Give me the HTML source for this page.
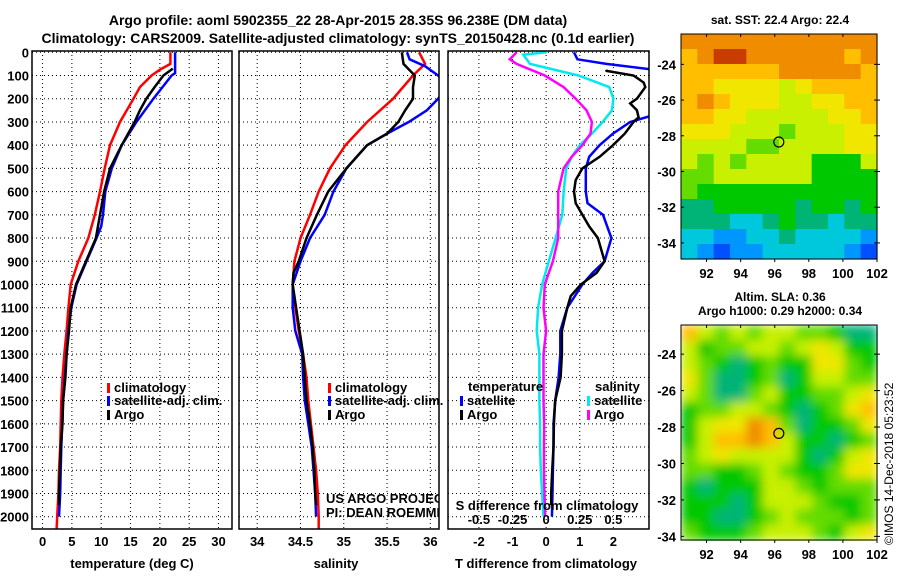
<!DOCTYPE html>
<html><head><meta charset="utf-8"><style>
body{margin:0;background:#fff;}
svg{display:block;font-family:"Liberation Sans",sans-serif;}
.b{font-weight:bold;font-size:13px;}
</style></head><body>
<svg id="c" width="900" height="580" viewBox="0 0 900 580">
<text x="338" y="25" text-anchor="middle" font-size="14" font-weight="bold">Argo profile: aoml 5902355_22 28-Apr-2015 28.35S 96.238E (DM data)</text>
<text x="338" y="43" text-anchor="middle" font-size="14" font-weight="bold">Climatology: CARS2009. Satellite-adjusted climatology: synTS_20150428.nc (0.1d earlier)</text>
<text x="780" y="24" text-anchor="middle" font-size="12" font-weight="bold">sat. SST: 22.4 Argo: 22.4</text>
<text x="780" y="301" text-anchor="middle" font-size="12" font-weight="bold">Altim. SLA: 0.36</text>
<text x="780" y="315" text-anchor="middle" font-size="12" font-weight="bold">Argo h1000: 0.29 h2000: 0.34</text>
<text transform="translate(893,545) rotate(-90)" font-size="12">©IMOS 14-Dec-2018 05:23:52</text>
</svg>
<script>
// ---- data ----
const tDepth=[0,50,75,100,150,200,300,400,500,600,700,800,900,1000,1100,1200,1300,1400,1500,1600,1700,1800,1900,2000,2053];
const tClim=[21.8,21.8,20,18.6,16.6,15.5,13.2,11.5,10.6,9.8,8.9,7.8,6.1,4.8,4.4,4.1,3.7,3.4,3.2,3.1,3.0,2.8,2.7,2.5,2.4];
const tSatDepth=[0,90,100,200,300,400,500,600,700,750,800,900,1000,1100,1200,1300,1400,1500,1600,1700,1800,1900,2000];
const tSat=[22.6,22.6,22,18.9,16,13.5,11.8,10.7,10.3,10,9.2,7.5,5.8,4.9,4.4,4.1,3.8,3.5,3.35,3.2,3.1,3.0,2.8];
const argoDepth=[70,100,150,200,250,300,400,500,600,700,800,900,1000,1100,1200,1300,1400,1500,1600,1700,1800,1900,1950];
const tArgo=[22.2,20.6,19.1,17.7,16.6,15.7,13.5,11.5,10.5,9.8,9.1,7.4,5.7,4.8,4.5,4.1,3.9,3.5,3.4,3.1,2.95,2.8,2.8];
const sDepth=[0,50,100,200,300,400,500,600,700,800,900,1000,1100,1200,1300,1400,1500,1600,1700,1800,1900,2000,2053];
const sClim=[35.87,35.94,35.80,35.57,35.27,35.02,34.84,34.71,34.61,34.5,34.43,34.41,34.44,34.48,34.53,34.57,34.59,34.62,34.65,34.68,34.70,34.71,34.71];
const sSatDepth=[0,30,60,100,150,200,250,300,350,400,500,600,700,800,900,1000,1100,1200,1300,1400,1500,1600,1700,1800,1900,2000];
const sSat=[35.73,35.76,35.94,36.09,36.2,36.09,35.96,35.75,35.5,35.27,35.03,34.88,34.78,34.61,34.5,34.41,34.41,34.44,34.52,34.53,34.55,34.59,34.63,34.65,34.67,34.68];
const sArgoDepth=[0,50,100,150,200,250,300,350,400,450,500,600,700,800,900,950,1000,1100,1200,1300,1400,1500,1600,1700,1800,1900,1950];
const sArgo=[35.67,35.69,35.82,35.80,35.8,35.71,35.63,35.5,35.27,35.15,35.03,34.82,34.69,34.57,34.48,34.42,34.41,34.45,34.49,34.53,34.55,34.57,34.61,34.64,34.66,34.67,34.68];
const dtSatDepth=[0,30,50,75,270,300,350,400,450,500,600,650,700,800,900,950,1000,1100,1200,1300,1400,1500,1600,1700,1800,1900,2000];
const dtSat=[0.83,0.93,1.79,3.2,3.2,2.5,1.99,1.59,1.28,1.18,1.18,1.23,1.69,1.94,1.74,1.38,1.08,0.63,0.42,0.42,0.37,0.27,0.22,0.22,0.2,0.19,0.17];
const dtArgoDepth=[75,80,100,130,150,200,220,250,280,300,350,400,450,500,550,600,650,700,750,800,900,950,1000,1050,1100,1200,1300,1400,1500,1600,1700,1800,1900,1950];
const dtArgo=[1.79,1.8,2.6,2.9,2.95,2.7,2.5,2.7,2.75,2.6,2.34,1.99,1.59,1.08,0.88,0.83,0.88,1.08,1.28,1.54,1.74,1.5,1.03,0.73,0.63,0.47,0.47,0.43,0.27,0.23,0.22,0.18,0.15,0.15];
const dsSatDepth=[0,10,50,100,150,200,250,300,350,400,450,500,600,700,800,900,1000,1100,1200,1300,1400,1500,1600,1700,1800,1900,2000];
const dsSat=[0.005,-0.17,-0.12,0.24,0.47,0.50,0.49,0.42,0.34,0.25,0.19,0.15,0.13,0.12,0.07,0.02,-0.03,-0.06,-0.07,-0.05,-0.05,-0.05,-0.045,-0.045,-0.04,-0.03,-0.02];
const dsArgoDepth=[0,30,50,100,150,200,250,300,350,400,450,500,600,700,800,900,950,1000,1100,1200,1300,1400,1500,1600,1700,1800,1900,2000];
const dsArgo=[-0.22,-0.27,-0.22,-0.01,0.13,0.22,0.30,0.34,0.33,0.27,0.19,0.13,0.09,0.09,0.09,0.05,0.02,-0.01,-0.02,0.0,-0.02,-0.02,-0.02,-0.015,-0.017,-0.017,-0.012,-0.007];
const depthTicks=[0,100,200,300,400,500,600,700,800,900,1000,1100,1200,1300,1400,1500,1600,1700,1800,1900,2000];
const tempTicks=[0,5,10,15,20,25,30];
const salTicks=[34,34.5,35,35.5,36];
const salTickLabels=["34","34.5","35","35.5","36"];
const dtTicks=[-2,-1,0,1,2];
const dsTicks=[-0.5,-0.25,0,0.25,0.5];
const dsTickLabels=["-0.5","-0.25","0","0.25","0.5"];
const latTicks=[-24,-26,-28,-30,-32,-34];
const lonTicks=[92,94,96,98,100,102];
const sstGrid=[
[9,9,9,9,9,9,9,9,9,9,9,9],
[8,9,10,10,9,9,9,9,9,9,8,9],
[8,8,8,8,8,8,9,9,9,9,9,8],
[8,8,7,7,7,7,6,7,8,8,8,8],
[8,9,8,7,7,7,6,6,7,7,8,8],
[8,8,7,7,6,6,6,6,6,7,7,8],
[7,7,7,6,6,6,5,6,6,6,7,7],
[6,6,6,6,5,5,6,6,6,6,7,7],
[6,5,6,5,6,6,6,6,4,4,4,6],
[5,5,6,6,6,6,6,6,4,4,4,4],
[5,4,4,4,4,4,4,4,4,4,4,4],
[3,3,4,4,4,4,4,3,4,4,3,4],
[3,3,3,2,2,3,4,3,3,2,3,3],
[2,2,1,1,2,2,3,2,2,2,2,1],
[2,1,0,1,1,2,2,2,2,2,1,0]];
const slaGrid=[
[8,6,5,6,5,6,6,5,5,4,3,3],
[6,4,5,5,6,6,5,6,7,6,4,4],
[6,5,4,3,4,5,4,4,7,7,5,4],
[7,5,3,3,4,5,3,4,6,6,5,5],
[6,5,3,3,5,6,4,4,5,5,6,7],
[4,5,5,6,6,5,4,3,4,5,7,8],
[4,6,7,7,9,8,5,3,4,4,5,7],
[4,6,8,8,9,8,6,4,4,3,4,5],
[5,6,7,6,6,6,6,4,3,4,6,7],
[5,5,4,4,5,6,5,4,4,5,7,7],
[4,3,4,4,4,6,6,5,4,5,5,5],
[4,4,4,3,4,6,6,6,5,4,4,5],
[4,4,3,3,4,5,6,5,5,5,4,5],
[5,4,4,4,5,6,6,6,5,4,6,7]];
const palette=["#0050ff","#0096ff","#00c8dc","#00b478","#00c800","#64dc00","#c8f000","#f0e600","#ffbe00","#f08c00","#c83c00"];

// ---- helpers ----
const NS="http://www.w3.org/2000/svg";
const svg=document.getElementById('c');
function mk(tag,attrs,parent){const e=document.createElementNS(NS,tag);for(const k in attrs)e.setAttribute(k,attrs[k]);(parent||svg).appendChild(e);return e;}
function txt(x,y,s,anchor,cls,parent){const e=mk('text',{x:x,y:y,'text-anchor':anchor||'middle','class':cls||'b'},parent);e.textContent=s;return e;}
const yTop=51,yBot=529;
function yD(d){return 52.3+d*(516.7-52.3)/2000;}

const panels=[
 {x0:32,x1:232,vmin:-1.8,vmax:32.3,name:'temperature'},
 {x0:239,x1:439,vmin:33.79,vmax:36.1,name:'salinity'},
 {x0:448,x1:649,vmin:-2.92,vmax:3.06,name:'difference'}];
function xs(p,v){return p.x0+(v-p.vmin)/(p.vmax-p.vmin)*(p.x1-p.x0);}

const defs=mk('defs',{});
panels.forEach((p,i)=>{const cp=mk('clipPath',{id:'cp'+i},defs);mk('rect',{x:p.x0,y:yTop,width:p.x1-p.x0,height:yBot-yTop},cp);});
const f=mk('filter',{id:'blur',x:'0',y:'0',width:'1',height:'1'},defs);
mk('feGaussianBlur',{stdDeviation:'5',edgeMode:'duplicate'},f);

function grid(p,ticks,g){
 depthTicks.forEach(d=>{const l=mk('line',{x1:p.x0,x2:p.x1,y1:yD(d),y2:yD(d),stroke:'#000','stroke-width':1,'stroke-dasharray':'1,3'},g);
  
  });
 ticks.forEach(t=>{const x=xs(p,t);const l=mk('line',{x1:x,x2:x,y1:yTop,y2:yBot,stroke:'#000','stroke-width':1,'stroke-dasharray':'1,3'},g);
  
  });
}
function line(p,pi,vals,depths,color,name,g,xf){
 const pts=vals.map((v,i)=>(xf?xf(v):xs(p,v)).toFixed(1)+','+yD(depths[i]).toFixed(1)).join(' ');
 const e=mk('polyline',{points:pts,fill:'none',stroke:color,'stroke-width':2.5,'clip-path':'url(#cp'+pi+')'},g);
 
 
}
function frame(p,g){
 const r=mk('rect',{x:p.x0,y:yTop,width:p.x1-p.x0,height:yBot-yTop,fill:'none',stroke:'#000','stroke-width':1.5},g);
 
 
}
function legend(x,y,color,label,g){
 mk('rect',{x:x,y:y-9,width:3,height:10,fill:color},g);
 const t=txt(x+7,y,label,'start','b',g);
 
 
}

const dl=mk('g',{});


depthTicks.forEach(d=>{txt(29,yD(d)+5,String(d),'end','b',dl);});

// panel 1
const g1=mk('g',{});


grid(panels[0],tempTicks,g1);
line(panels[0],0,tClim,tDepth,'#f00','temp-climatology-line',g1);
line(panels[0],0,tSat,tSatDepth,'#00f','temp-satellite-line',g1);
line(panels[0],0,tArgo,argoDepth,'#000','temp-argo-line',g1);
frame(panels[0],g1);
tempTicks.forEach(t=>txt(xs(panels[0],t),546,String(t),'middle','b',g1));
const at1=txt(132,568,'temperature (deg C)','middle','b',g1);

legend(107,392,'#f00','climatology',g1);
legend(107,405,'#00f','satellite-adj. clim.',g1);
legend(107,419,'#000','Argo',g1);

// panel 2
const g2=mk('g',{});


grid(panels[1],salTicks,g2);
line(panels[1],1,sClim,sDepth,'#f00','sal-climatology-line',g2);
line(panels[1],1,sSat,sSatDepth,'#00f','sal-satellite-line',g2);
line(panels[1],1,sArgo,sArgoDepth,'#000','sal-argo-line',g2);
frame(panels[1],g2);
salTicks.forEach((t,i)=>txt(xs(panels[1],t),546,salTickLabels[i],'middle','b',g2));
txt(336,568,'salinity','middle','b',g2);
legend(328,392,'#f00','climatology',g2);
legend(328,405,'#00f','satellite-adj. clim.',g2);
legend(328,419,'#000','Argo',g2);
const cr=mk('g',{'clip-path':'url(#cp1)'},g2);


const c1=txt(326,503,'US ARGO PROJECT','start','',cr);c1.setAttribute('font-size','12');
const c2=txt(326,517,'PI: DEAN ROEMMICH','start','',cr);c2.setAttribute('font-size','12');

// panel 3
const p3=panels[2];
const g3=mk('g',{});


grid(p3,dtTicks,g3);
const sx=v=>xs(p3,v*4);
line(p3,2,dsSat,dsSatDepth,'#00e8f0','sal-diff-satellite-line',g3,sx);
line(p3,2,dsArgo,dsArgoDepth,'#f0f','sal-diff-argo-line',g3,sx);
line(p3,2,dtSat,dtSatDepth,'#00f','temp-diff-satellite-line',g3);
line(p3,2,dtArgo,dtArgoDepth,'#000','temp-diff-argo-line',g3);
frame(p3,g3);
dtTicks.forEach(t=>txt(xs(p3,t),546,String(t),'middle','b',g3));
txt(546,568,'T difference from climatology','middle','b',g3);
txt(547,510,'S difference from climatology','middle','b',g3);
dsTicks.forEach((t,i)=>txt(sx(t),524,dsTickLabels[i],'middle','b',g3));
txt(468,391,'temperature','start','b',g3);
legend(460,405,'#00f','satellite',g3);
legend(460,419,'#000','Argo',g3);
txt(595,391,'salinity','start','b',g3);
legend(587,405,'#00e8f0','satellite',g3);
legend(587,419,'#f0f','Argo',g3);

// maps
function drawMap(gridData,mx0,my0,mx1,my1,latTop,latBot,lon0,lon1,name,cx,cy,blur){
 const g=mk('g',{});
 
 
 const cells=mk('g',blur?{filter:'url(#blur)'}:{},g);
 const rows=gridData.length,cols=gridData[0].length;
 const cw=(mx1-mx0)/cols,ch=(my1-my0)/rows;
 gridData.forEach((row,r)=>row.forEach((v,c)=>{
  const cell=mk('rect',{x:(mx0+c*cw).toFixed(2),y:(my0+r*ch).toFixed(2),width:(cw+0.6).toFixed(2),height:(ch+0.6).toFixed(2),fill:palette[v]},cells);
  
  
 }));
 mk('rect',{x:mx0,y:my0,width:mx1-mx0,height:my1-my0,fill:'none',stroke:'#000','stroke-width':1},g);
 const lx=v=>mx0+(v-lon0)/(lon1-lon0)*(mx1-mx0);
 const ly=v=>my0+(latTop-v)/(latTop-latBot)*(my1-my0);
 latTicks.forEach(t=>{const y=ly(t);mk('line',{x1:mx1-3,x2:mx1+3,y1:y,y2:y,stroke:'#000'},g);mk('line',{x1:mx0,x2:mx0+3,y1:y,y2:y,stroke:'#000'},g);txt(mx0-5,y+5,String(t),'end','b',g);});
 lonTicks.forEach(t=>{const x=lx(t);mk('line',{x1:x,x2:x,y1:my1,y2:my1+3,stroke:'#000'},g);mk('line',{x1:x,x2:x,y1:my0,y2:my0+3,stroke:'#000'},g);txt(x,my1+19,String(t),'middle','b',g);});
 const c=mk('circle',{cx:lx(cx),cy:ly(cy),r:5,fill:'none',stroke:'#000','stroke-width':1.2},g);
 
 
}
drawMap(sstGrid,681,34,877,259,-22.3,-34.9,90.5,102,'sst-map',96.24,-28.35,false);
drawMap(slaGrid,681,325,877,540,-22.4,-34.2,90.5,102,'sla-map',96.24,-28.35,true);
</script>
</body></html>
